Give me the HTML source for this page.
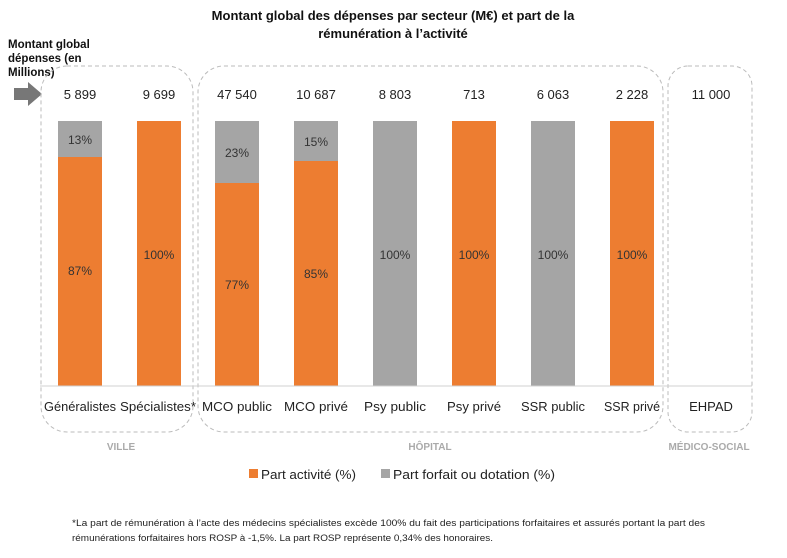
<!DOCTYPE html>
<html><head><meta charset="utf-8"><style>
body{margin:0;background:#fff;width:787px;height:553px;overflow:hidden;font-family:"Liberation Sans",sans-serif;}
</style></head><body>
<svg width="787" height="553" xmlns="http://www.w3.org/2000/svg" font-family="Liberation Sans, sans-serif">
<text x="393" y="20" text-anchor="middle" font-size="13" font-weight="bold" fill="#111">Montant global des dépenses par secteur (M€) et part de la</text>
<text x="393" y="38" text-anchor="middle" font-size="13" font-weight="bold" fill="#111">rémunération à l’activité</text>
<text x="8" y="48" font-size="11.5" font-weight="bold" fill="#111">Montant global</text>
<text x="8" y="62" font-size="11.5" font-weight="bold" fill="#111">dépenses (en</text>
<text x="8" y="76" font-size="11.5" font-weight="bold" fill="#111">Millions)</text>
<polygon points="14,88 28,88 28,82 42,94 28,106 28,100 14,100" fill="#777"/>
<g fill="none" stroke="#bbb" stroke-dasharray="4,3" stroke-width="1">
<rect x="41" y="66" width="152" height="366" rx="26"/>
<rect x="198" y="66" width="465" height="366" rx="26"/>
<rect x="668" y="66" width="84" height="366" rx="20"/>
</g>
<g font-size="13" fill="#222" text-anchor="middle">
<text x="80" y="99">5 899</text><text x="159" y="99">9 699</text><text x="237" y="99">47 540</text>
<text x="316" y="99">10 687</text><text x="395" y="99">8 803</text><text x="474" y="99">713</text>
<text x="553" y="99">6 063</text><text x="632" y="99">2 228</text><text x="711" y="99">11 000</text>
</g>
<g>
<rect x="58" y="121" width="44" height="36" fill="#a5a5a5"/><rect x="58" y="157" width="44" height="229" fill="#ed7d31"/>
<rect x="137" y="121" width="44" height="265" fill="#ed7d31"/>
<rect x="215" y="121" width="44" height="62" fill="#a5a5a5"/><rect x="215" y="183" width="44" height="203" fill="#ed7d31"/>
<rect x="294" y="121" width="44" height="40" fill="#a5a5a5"/><rect x="294" y="161" width="44" height="225" fill="#ed7d31"/>
<rect x="373" y="121" width="44" height="265" fill="#a5a5a5"/>
<rect x="452" y="121" width="44" height="265" fill="#ed7d31"/>
<rect x="531" y="121" width="44" height="265" fill="#a5a5a5"/>
<rect x="610" y="121" width="44" height="265" fill="#ed7d31"/>
</g>
<line x1="40" y1="386" x2="752" y2="386" stroke="#d0d0d0"/>
<g font-size="12" fill="#333" text-anchor="middle">
<text x="80" y="144">13%</text><text x="80" y="275">87%</text><text x="159" y="259">100%</text>
<text x="237" y="157">23%</text><text x="237" y="289">77%</text>
<text x="316" y="146">15%</text><text x="316" y="278">85%</text>
<text x="395" y="259">100%</text><text x="474" y="259">100%</text><text x="553" y="259">100%</text><text x="632" y="259">100%</text>
</g>
<g font-size="13" fill="#222" text-anchor="middle">
<text x="80" y="411" textLength="72" lengthAdjust="spacingAndGlyphs">Généralistes</text><text x="158" y="411" textLength="76" lengthAdjust="spacingAndGlyphs">Spécialistes*</text><text x="237" y="411" textLength="70" lengthAdjust="spacingAndGlyphs">MCO public</text>
<text x="316" y="411" textLength="64" lengthAdjust="spacingAndGlyphs">MCO privé</text><text x="395" y="411" textLength="62" lengthAdjust="spacingAndGlyphs">Psy public</text><text x="474" y="411" textLength="54" lengthAdjust="spacingAndGlyphs">Psy privé</text>
<text x="553" y="411" textLength="64" lengthAdjust="spacingAndGlyphs">SSR public</text><text x="632" y="411" textLength="56" lengthAdjust="spacingAndGlyphs">SSR privé</text><text x="711" y="411">EHPAD</text>
</g>
<g font-size="10" font-weight="bold" fill="#aaa" text-anchor="middle">
<text x="121" y="450">VILLE</text><text x="430" y="450">HÔPITAL</text><text x="709" y="450">MÉDICO-SOCIAL</text>
</g>
<rect x="249" y="469" width="9" height="9" fill="#ed7d31"/>
<text x="261" y="479" font-size="13" fill="#222" textLength="95" lengthAdjust="spacingAndGlyphs">Part activité (%)</text>
<rect x="381" y="469" width="9" height="9" fill="#a5a5a5"/>
<text x="393" y="479" font-size="13" fill="#222" textLength="162" lengthAdjust="spacingAndGlyphs">Part forfait ou dotation (%)</text>
<text x="72" y="526" font-size="9" fill="#222" textLength="633" lengthAdjust="spacingAndGlyphs">*La part de rémunération à l’acte des médecins spécialistes  excède 100% du fait des participations forfaitaires et assurés portant la part des</text>
<text x="72" y="541" font-size="9" fill="#222" textLength="421" lengthAdjust="spacingAndGlyphs">rémunérations forfaitaires hors ROSP à -1,5%. La part ROSP représente 0,34% des honoraires.</text>
</svg>
</body></html>
